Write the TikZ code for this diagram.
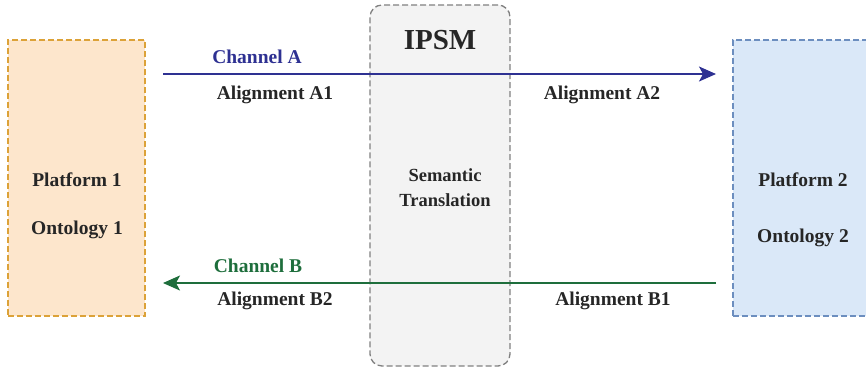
\documentclass[tikz,border=0pt]{standalone}
\usepackage{fontspec}
\setmainfont{Liberation Serif}
\usetikzlibrary{arrows.meta}

\definecolor{platorange}{HTML}{FDE6CC}
\definecolor{platorangeline}{HTML}{DCA238}
\definecolor{platblue}{HTML}{DAE8F8}
\definecolor{platblueline}{HTML}{6C8EBF}
\definecolor{ipsmgray}{HTML}{F3F3F3}
\definecolor{ipsmline}{HTML}{808080}
\definecolor{chanblue}{HTML}{2E3192}
\definecolor{changreen}{HTML}{1E6E3C}

\tikzset{
    box/.style={draw, dashed, dash pattern=on 6pt off 3pt, line width=1.3pt, minimum width=137pt, minimum height=276pt, inner sep=0pt},
    label/.style={font=\fontsize{19.5}{22}\selectfont\bfseries, text=black!85, inner sep=0pt},
    channel/.style={line width=1.5pt, -{Stealth[length=17pt,width=15pt,inset=4pt]}}
}

\begin{document}
\begin{tikzpicture}[x=1pt,y=-1pt]
    \useasboundingbox (0,0) rectangle (866,370);
    % boxes
    \node[box, fill=platorange, draw=platorangeline] (plat1) at (76.5,178) {};
    \node[box, fill=ipsmgray, draw=ipsmline, rounded corners=12pt, minimum width=140pt, minimum height=361pt] (ipsm) at (440,185.5) {};
    \node[box, fill=platblue, draw=platblueline, minimum width=150pt] (plat2) at (808,178) {};
    % texts
    \node[label] (p1) at (77,180) {Platform 1};
    \node[label] (o1) at (77,230) {Ontology 1};
    \node[label] (p2) at (803,180) {Platform 2};
    \node[label] (o2) at (803,238) {Ontology 2};
    \node[label, font=\fontsize{29}{30}\selectfont\bfseries] (ipsmtitle) at (440,40) {IPSM};
    \node[label, font=\fontsize{18.5}{25}\selectfont\bfseries, align=center] (trans) at (445,188) {Semantic\\Translation};
    % channels
    \coordinate (aL) at (163,74);
    \coordinate (aR) at (716,74);
    \coordinate (bR) at (716,283);
    \coordinate (bL) at (163,283);
    \draw[channel, chanblue] (aL) -- (aR);
    \draw[channel, changreen] (bR) -- (bL);
    \node[label, text=chanblue] (chA) at (257,57) {Channel A};
    \node[label] (alA1) at (275,95) {Alignment A1};
    \node[label] (alA2) at (602,95) {Alignment A2};
    \node[label, text=changreen] (chB) at (258,266) {Channel B};
    \node[label] (alB2) at (275,301) {Alignment B2};
    \node[label] (alB1) at (613,301) {Alignment B1};
\end{tikzpicture}
\end{document}
